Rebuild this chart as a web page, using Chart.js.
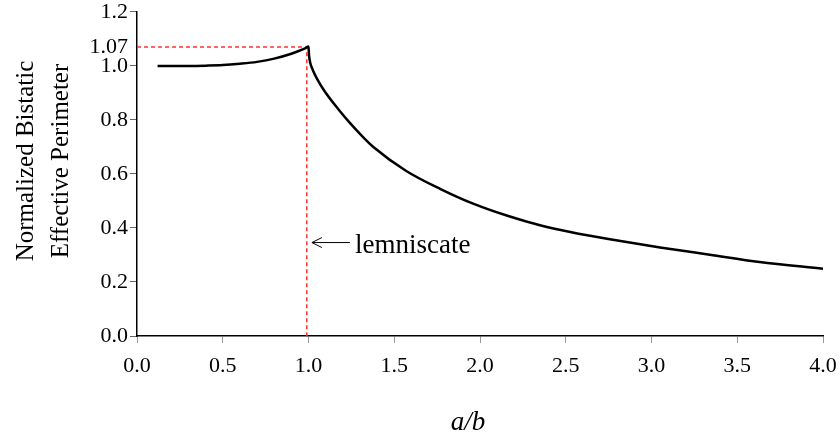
<!DOCTYPE html>
<html>
<head>
<meta charset="utf-8">
<script src="https://cdn.jsdelivr.net/npm/chart.js@4"></script>
<style>
  html, body { margin: 0; padding: 0; background: #fff; }
  #wrap { width: 840px; height: 437px; }
</style>
</head>
<body>
<div id="wrap"><canvas id="c" width="840" height="437"></canvas></div>
<script>
// values
const ratio = [0.12, 0.2, 0.3, 0.4, 0.5, 0.6, 0.7, 0.8, 0.9, 0.95, 0.98, 1.0, 1.003, 1.01, 1.025, 1.05, 1.09, 1.18, 1.24, 1.31, 1.38, 1.57, 1.77, 1.96, 2.16, 2.35, 2.54, 2.74, 3.05, 3.34, 3.63, 4.0];
const perimeter = [1.0, 1.0, 1.0, 1.001, 1.003, 1.008, 1.015, 1.027, 1.045, 1.057, 1.065, 1.072, 1.04, 1.012, 0.985, 0.952, 0.91, 0.835, 0.79, 0.742, 0.699, 0.611, 0.544, 0.49, 0.445, 0.41, 0.383, 0.36, 0.328, 0.301, 0.274, 0.249];

// red guide lines through the lemniscate peak
const guideX = [0, 0.99, 0.99];
const guideY = [1.07, 1.07, 0];

const extraTick = 1.07;
const noteX = 1.02, noteY = 0.346;
const noteText = 'lemniscate';
const xTitle = 'a/b';
const yTitle = ['Normalized Bistatic', 'Effective Perimeter'];

const serif = '"Liberation Serif", "Times New Roman", serif';

const textPlugin = {
  id: 'texts',
  afterDraw(chart) {
    const ctx = chart.ctx;
    const xs = chart.scales.x, ys = chart.scales.y;
    ctx.save();
    ctx.fillStyle = '#000';
    ctx.strokeStyle = '#000';

    // annotation arrow
    const tx = xs.getPixelForValue(noteX);
    const ty = ys.getPixelForValue(noteY);
    ctx.lineWidth = 1;
    ctx.beginPath();
    ctx.moveTo(tx, ty);
    ctx.lineTo(tx + 38, ty);
    ctx.moveTo(tx + 10, ty - 5);
    ctx.lineTo(tx, ty);
    ctx.lineTo(tx + 10, ty + 5);
    ctx.stroke();
    ctx.font = '27px ' + serif;
    ctx.textAlign = 'left';
    ctx.textBaseline = 'alphabetic';
    ctx.fillText(noteText, tx + 43, ty + 10);

    // x title
    ctx.font = 'italic 27px ' + serif;
    ctx.textAlign = 'center';
    ctx.fillText(xTitle, 468, 430);

    // y title, two rotated lines
    ctx.font = '25px ' + serif;
    ctx.translate(0, 161);
    ctx.rotate(-Math.PI / 2);
    ctx.fillText(yTitle[0], 0, 33);
    ctx.fillText(yTitle[1], 0, 68);
    ctx.restore();
  }
};

new Chart(document.getElementById('c'), {
  type: 'scatter',
  data: {
    datasets: [
      {
        data: ratio.map((r, i) => ({ x: r, y: perimeter[i] })),
        showLine: true,
        borderColor: '#000',
        borderWidth: 2.5,
        pointRadius: 0,
        cubicInterpolationMode: 'monotone'
      },
      {
        data: guideX.map((g, i) => ({ x: g, y: guideY[i] })),
        showLine: true,
        borderColor: 'rgb(255,50,50)',
        borderWidth: 1.5,
        borderDash: [4, 3],
        pointRadius: 0
      }
    ]
  },
  options: {
    responsive: false,
    animation: false,
    layout: { padding: { left: 0, top: 10, right: 17, bottom: 0 } },
    plugins: { legend: { display: false }, tooltip: { enabled: false } },
    scales: {
      x: {
        type: 'linear',
        min: 0,
        max: 4,
        afterFit: s => { s.height = 101; s.paddingRight = 0; s.paddingLeft = 0; },
        border: { color: '#000', width: 1.5 },
        grid: { drawOnChartArea: false, tickLength: 7, tickColor: '#999' },
        ticks: {
          stepSize: 0.5,
          padding: 10,
          color: '#000',
          maxRotation: 0,
          font: { family: serif, size: 22 },
          callback: v => v.toFixed(1)
        }
      },
      y: {
        min: 0,
        max: 1.2,
        afterFit: s => { s.width = 137; },
        afterBuildTicks: s => {
          s.ticks.push({ value: extraTick });
          s.ticks.sort((a, b) => a.value - b.value);
        },
        border: { color: '#000', width: 1.5 },
        grid: {
          drawOnChartArea: false,
          tickLength: 7,
          tickColor: c => (c.tick && Math.abs(c.tick.value - extraTick) < 1e-6) ? 'rgba(0,0,0,0)' : '#666'
        },
        ticks: {
          stepSize: 0.2,
          padding: 2,
          color: '#000',
          font: { family: serif, size: 22, lineHeight: 0.9 },
          callback: v => Math.abs(v - extraTick) < 1e-6 ? '1.07' : v.toFixed(1)
        }
      }
    }
  },
  plugins: [textPlugin]
});
</script>
</body>
</html>
